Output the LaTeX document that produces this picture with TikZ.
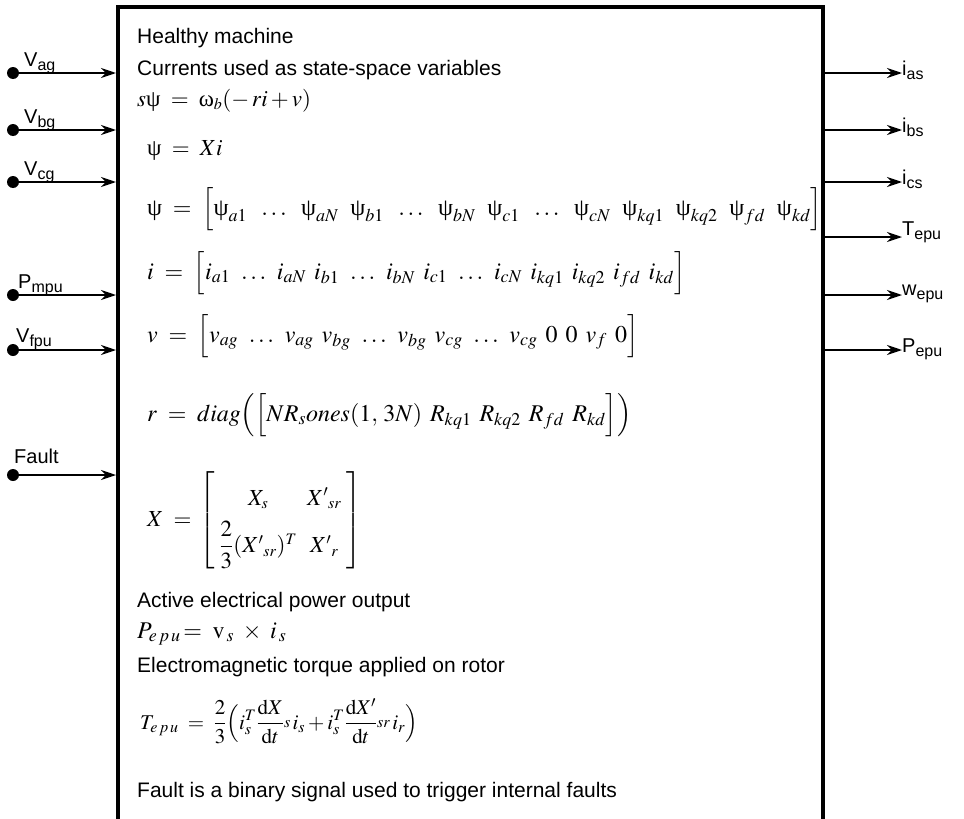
\documentclass[tikz,border=0pt]{standalone}
\usepackage{amsmath}
\usepackage{mathptmx}
\usepackage[no-math]{fontspec}
\setmainfont{Liberation Sans}
\newfontfamily\grk{Liberation Serif}
\usetikzlibrary{arrows.meta}
\DeclareMathSizes{24}{24}{18}{13}
\DeclareMathSizes{23}{23}{16}{12}
\DeclareMathSizes{21}{21}{16}{11}
\newcommand\sublab[2]{#1\raisebox{-0.45ex}{\fontsize{16}{16}\selectfont #2}}
\newcommand\midsub[1]{\vcenter{\hbox{$\scriptstyle #1$}}}
\newcommand\gpsi{\text{\grk ψ}}
\newcommand\gomega{\text{\grk ω}}
\newcommand\gp{\;\,}
\newcommand\gq{\mkern8.8mu}
\begin{document}
\begin{tikzpicture}[x=1pt,y=-1pt,
  txt/.style={anchor=base west,inner sep=0pt,font=\fontsize{21}{23}\selectfont},
  eqn/.style={anchor=base west,inner sep=0pt,font=\fontsize{23}{25}\selectfont},
  eqv/.style={anchor=base west,inner sep=0pt,font=\fontsize{24}{26}\selectfont},
  eqs/.style={anchor=base west,inner sep=0pt,font=\fontsize{21}{23}\selectfont},
  arr/.style={line width=1.8pt,-{Stealth[length=15pt,width=10pt,inset=5pt]}},
  dotn/.style={circle,fill,inner sep=0pt,minimum size=12pt},
  lab/.style={anchor=base west,inner sep=0pt,font=\fontsize{20}{20}\selectfont}]
\useasboundingbox (0,0) rectangle (964,819);
\fill[white] (0,0) rectangle (964,819);
% block
\coordinate (bl) at (118,830);
\coordinate (tl) at (118,7);
\coordinate (tr) at (823,7);
\coordinate (br) at (823,830);
\draw[line width=4pt] (bl) -- (tl) -- (tr) -- (br);
% inputs
\foreach \n/\y in {1/73,2/130,3/182,4/295,5/350,6/475}{
  \node[dotn] (in\n) at (13,\y) {};
  \coordinate (ie\n) at (116,\y);
  \draw[arr] (in\n) -- (ie\n);
}
\node[lab] (lin1) at (24,66) {\sublab{V}{ag}};
\node[lab] (lin2) at (24,123) {\sublab{V}{bg}};
\node[lab] (lin3) at (24,175) {\sublab{V}{cg}};
\node[lab] (lin4) at (18,288) {\sublab{P}{mpu}};
\node[lab] (lin5) at (16,342) {\sublab{V}{fpu}};
\node[lab] (lin6) at (14,463) {Fault};
% outputs
\foreach \n/\y in {1/73,2/130,3/182,4/237,5/295,6/350}{
  \coordinate (ob\n) at (825,\y);
  \coordinate (ot\n) at (902,\y);
  \draw[arr] (ob\n) -- (ot\n);
}
\node[lab] (lout1) at (902,75) {\sublab{i}{as}};
\node[lab] (lout2) at (902,132) {\sublab{i}{bs}};
\node[lab] (lout3) at (902,184) {\sublab{i}{cs}};
\node[lab] (lout4) at (902,235) {\sublab{T}{epu}};
\node[lab] (lout5) at (902,295) {\sublab{w}{epu}};
\node[lab] (lout6) at (902,352) {\sublab{P}{epu}};
% texts
\node[txt] (t1) at (137,43) {Healthy machine};
\node[txt] (t2) at (137,75) {Currents used as state-space variables};
\node[eqn] (e1) at (137,106) {$s\gpsi \;=\; \gomega_b(-\,ri+v)$};
\node[eqn] (e2) at (147,155) {$\gpsi \;=\; Xi$};
\node[eqv] (e3) at (147,215) {$\gpsi \;=\; \Bigl[\gpsi_{a1}\gq\ldots\gq\gpsi_{aN}\gq\gpsi_{b1}\gq\ldots\gq\gpsi_{bN}\gq\gpsi_{c1}\gq\ldots\gq\gpsi_{cN}\gq\gpsi_{kq1}\gq\gpsi_{kq2}\gq\gpsi_{fd}\gq\gpsi_{kd}\Bigr]$};
\node[eqv] (e4) at (147,279) {$i \;=\; \Bigl[i_{a1}\gp\ldots\gp i_{aN}\gp i_{b1}\gp\ldots\gp i_{bN}\gp i_{c1}\gp\ldots\gp i_{cN}\gp i_{kq1}\gp i_{kq2}\gp i_{fd}\gp i_{kd}\Bigr]$};
\node[eqv] (e5) at (147,342) {$v \;=\; \Bigl[v_{ag}\gp\ldots\gp v_{ag}\gp v_{bg}\gp\ldots\gp v_{bg}\gp v_{cg}\gp\ldots\gp v_{cg}\gp 0\gp 0\gp v_f\gp 0\Bigr]$};
\node[eqv] (e6) at (147,421) {$r \;=\; diag\Bigl(\Bigl[NR_s ones(1,\,3N)\gp R_{kq1}\gp R_{kq2}\gp R_{fd}\gp R_{kd}\Bigr]\Bigr)$};
\node[eqn] (e7) at (147,526) {$X \;=\, \renewcommand\arraystretch{1.9}\left[\begin{array}{cc} X_s & {X'}_{sr}\\ \dfrac{2}{3}({X'}_{sr})^T & {X'}_r\end{array}\right]$};
\node[txt] (t3) at (137,607) {Active electrical power output};
\node[eqv] (e8) at (137,638) {$P_{e\,p\,u}\!=\;\mathrm{v}_{\,s}\;\times\; i_{\,s}$};
\node[txt] (t4) at (137,672) {Electromagnetic torque applied on rotor};
\node[eqs] (e9) at (140,729) {$\displaystyle T_{e\,p\,u} \;=\; \frac{2}{3}\Bigl(i_s^T\frac{\mathrm{d}X}{\mathrm{d}t}\midsub{s}\,i_s+i_s^T\frac{\mathrm{d}X'}{\mathrm{d}t}\midsub{sr}\,i_r\Bigr)$};
\node[txt] (t5) at (137,797) {Fault is a binary signal used to trigger internal faults};
\end{tikzpicture}
\end{document}
